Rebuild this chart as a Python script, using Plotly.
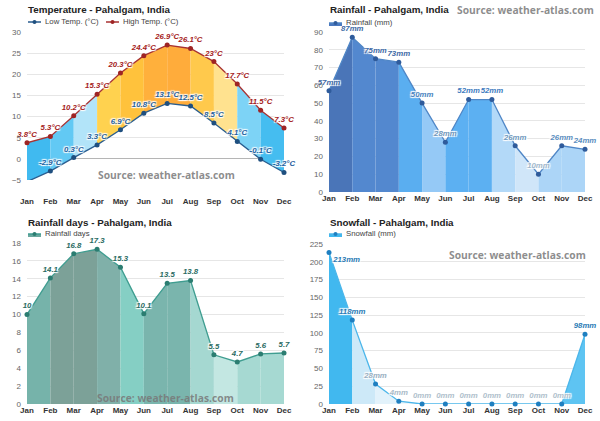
import plotly.graph_objects as go

MONTHS = ["Jan", "Feb", "Mar", "Apr", "May", "Jun", "Jul", "Aug", "Sep", "Oct", "Nov", "Dec"]
TEMP_HIGH = [3.8, 5.3, 10.2, 15.3, 20.3, 24.4, 26.9, 26.1, 23, 17.7, 11.5, 7.3]
TEMP_LOW = [-5.4, -2.9, 0.3, 3.3, 6.9, 10.8, 13.1, 12.5, 8.5, 4.1, -0.1, -3.2]
RAINFALL = [57, 87, 75, 73, 50, 28, 52, 52, 26, 10, 26, 24]
RAIN_DAYS = [10, 14.1, 16.8, 17.3, 15.3, 10.1, 13.5, 13.8, 5.5, 4.7, 5.6, 5.7]
SNOWFALL = [213, 118, 28, 4, 0, 0, 0, 0, 0, 0, 0, 98]

# styles
TEMP_FILL = ['#40baf0', '#62c9f4', '#b2e4f9', '#ffd24f', '#ffc23c', '#ffb03c', '#ffac3b',
             '#ffc94c', '#ffe28f', '#7dd3f6', '#45bdf0']
RAIN_FILL = ['#4a75b8', '#5388cf', '#5388cf', '#5aaef0', '#95c9f6', '#5cb0f2', '#5cb0f2',
             '#b3d9f8', '#d0e6f9', '#acd5f7', '#acd5f7']
DAYS_FILL = ['#76b3aa', '#7ca198', '#7ca198', '#80b0a9', '#85cfc4', '#7ab5ad', '#7ab5ad',
             '#a5d8d1', '#c3e7e2', '#a6d9d2', '#a6d9d2']
SNOW_FILL = ['#41b8ef', '#cde9f8', '#e2f2fb', '#eef7fc', '#eef7fc', '#eef7fc', '#eef7fc',
             '#eef7fc', '#eef7fc', '#eef7fc', '#5ec4f2']
RAIN_LABEL_COL = ['#3f6aa6', '#3f6aa6', '#3f6aa6', '#3f6aa6', '#4a84c0', '#7197bb', '#3f7cc0',
                  '#3f7cc0', '#7099bd', '#a2b8cc', '#5b8ec0', '#5b8ec0']
SNOW_LABEL_COL = ['#2b7bb5', '#2b7bb5', '#9ab0c2', '#a9bac8', '#b0bfcc', '#b0bfcc', '#b0bfcc',
                  '#b0bfcc', '#b0bfcc', '#b0bfcc', '#b0bfcc', '#2b7bb5']

W, H = 600, 421
def px(x): return x / W
def py(y): return 1 - y / H

SHADOW = "1px 1px 1px #fff, -1px -1px 1px #fff, 1px -1px 1px #fff, -1px 1px 1px #fff"
FONT = "Liberation Sans, Arial, sans-serif"
LBL = 7.8

fig = go.Figure()
X = list(range(12))

def label_font(color):
    return dict(family=FONT, size=LBL, color=color, weight="bold", style="italic", shadow=SHADOW)

def add_segments(axn, lower, upper, colors):
    for i in range(11):
        fig.add_trace(go.Scatter(
            x=[X[i], X[i + 1], X[i + 1], X[i]],
            y=[lower[i], lower[i + 1], upper[i + 1], upper[i]],
            fill="toself", fillcolor=colors[i], line=dict(width=0), mode="lines",
            hoverinfo="skip", showlegend=False, xaxis="x" + axn, yaxis="y" + axn))

def add_line(axn, vals, texts, lcolor, mcolor, tcolor, tpos="top center"):
    fig.add_trace(go.Scatter(
        x=X, y=vals, mode="lines+markers+text", text=texts, textposition=tpos,
        textfont=label_font(tcolor), line=dict(color=lcolor, width=1.3),
        marker=dict(size=5, color=mcolor), cliponaxis=False, showlegend=False,
        xaxis="x" + axn, yaxis="y" + axn))

# Panel 1: temperature
add_segments("", TEMP_LOW, TEMP_HIGH, TEMP_FILL)
add_line("", TEMP_HIGH, [f"{v:g}°C" for v in TEMP_HIGH], "#a83232", "#9e2424", "#a52222")
add_line("", TEMP_LOW, [f"{v:g}°C" for v in TEMP_LOW], "#2a5d8f", "#1f4f7f", "#1f62a0")

# Panel 2: rainfall
zeros = [0] * 12
add_segments("2", zeros, RAINFALL, RAIN_FILL)
add_line("2", RAINFALL, [f"{v}mm" for v in RAINFALL], "#4f86c6", "#2f5b9b", RAIN_LABEL_COL)

# Panel 3: rainfall days
add_segments("3", zeros, RAIN_DAYS, DAYS_FILL)
add_line("3", RAIN_DAYS, [f"{v:g}" for v in RAIN_DAYS], "#3f9d90", "#2b7d71", "#2a6b62")

# Panel 4: snowfall
add_segments("4", zeros, SNOWFALL, SNOW_FILL)
snow_pos = ["bottom right"] + ["top center"] * 11
add_line("4", SNOWFALL, [f"{v}mm" for v in SNOWFALL], "#4bb6ea", "#1f7fc0", SNOW_LABEL_COL, snow_pos)

def xax(dom, anchor, standoff=0):
    return dict(domain=dom, anchor=anchor, range=[0, 11], tickmode="array", tickvals=X,
                ticktext=MONTHS, showgrid=False, zeroline=False, showline=False,
                tickfont=dict(family=FONT, size=8, color="#333", weight="bold"),
                ticklabelstandoff=standoff, fixedrange=True, automargin=False)

def yax(dom, anchor, rng, dtick, zeroline=False):
    return dict(domain=dom, anchor=anchor, range=rng, dtick=dtick, showgrid=True,
                gridcolor="#e6e6e6", gridwidth=1, zeroline=zeroline, zerolinecolor="#b5b5b5",
                zerolinewidth=1, showline=False,
                tickfont=dict(family=FONT, size=8, color="#666"), ticklabelstandoff=5,
                fixedrange=True, automargin=False)

L1, R1 = px(27), px(284)
L2, R2 = px(329), px(585)

annotations = []
shapes = []

def title(x, y, text):
    annotations.append(dict(x=px(x), y=py(y), xref="paper", yref="paper", text=f"<b>{text}</b>",
                            showarrow=False, xanchor="left", yanchor="middle",
                            font=dict(family=FONT, size=9.8, color="#222")))

def source(xc, y):
    annotations.append(dict(x=px(xc), y=py(y), xref="paper", yref="paper",
                            text="Source: weather-atlas.com", showarrow=False,
                            xanchor="center", yanchor="middle",
                            font=dict(family="Open Sans, sans-serif", size=10.3,
                                      color="rgba(120,120,120,0.85)", weight="bold")))

def legend_item(x, y, text, lcolor, mcolor, fill=None):
    if fill:
        shapes.append(dict(type="rect", xref="paper", yref="paper", x0=px(x), x1=px(x + 13),
                           y0=py(y + 3), y1=py(y), fillcolor=fill, line=dict(width=0)))
    shapes.append(dict(type="line", xref="paper", yref="paper", x0=px(x), x1=px(x + 13),
                       y0=py(y), y1=py(y), line=dict(color=lcolor, width=1.5)))
    shapes.append(dict(type="circle", xref="paper", yref="paper", x0=px(x + 4.5), x1=px(x + 8.5),
                       y0=py(y + 2), y1=py(y - 2), fillcolor=mcolor, line=dict(width=0)))
    annotations.append(dict(x=px(x + 15), y=py(y), xref="paper", yref="paper", text=text,
                            showarrow=False, xanchor="left", yanchor="middle",
                            font=dict(family=FONT, size=7.8, color="#444")))

title(26, 10, "Temperature - Pahalgam, India")
legend_item(28, 22, "Low Temp. (°C)", "#2a5d8f", "#1f4f7f")
legend_item(106, 22, "High Temp. (°C)", "#a83232", "#9e2424")
source(166, 175)

title(328, 10, "Rainfall - Pahalgam, India")
legend_item(329, 23, "Rainfall (mm)", "#4f86c6", "#2f5b9b", fill="#4a78be")
source(525, 10)

title(26, 222, "Rainfall days - Pahalgam, India")
legend_item(28, 234, "Rainfall days", "#3f9d90", "#2b7d71", fill="#6aa89f")
source(165, 398)

title(328, 222, "Snowfall - Pahalgam, India")
legend_item(329, 234, "Snowfall (mm)", "#4bb6ea", "#1f7fc0", fill="#41b8ef")
source(517, 255)

fig.update_layout(
    width=W, height=H, margin=dict(l=0, r=0, t=0, b=0, autoexpand=False),
    paper_bgcolor="white", plot_bgcolor="white", showlegend=False,
    xaxis=xax([L1, R1], "y", standoff=15), yaxis=yax([py(180), py(32)], "x", [-5, 30], 5, True),
    xaxis2=xax([L2, R2], "y2"), yaxis2=yax([py(192), py(32)], "x2", [0, 90], 10),
    xaxis3=xax([L1, R1], "y3"), yaxis3=yax([py(404), py(243)], "x3", [0, 18], 2),
    xaxis4=xax([L2, R2], "y4"), yaxis4=yax([py(404), py(244)], "x4", [0, 225], 25),
    annotations=annotations, shapes=shapes,
)

fig.write_html("out.html", config={"displayModeBar": False},
               post_script="document.body.style.margin='0';document.body.style.padding='0';document.body.style.overflow='hidden';")
